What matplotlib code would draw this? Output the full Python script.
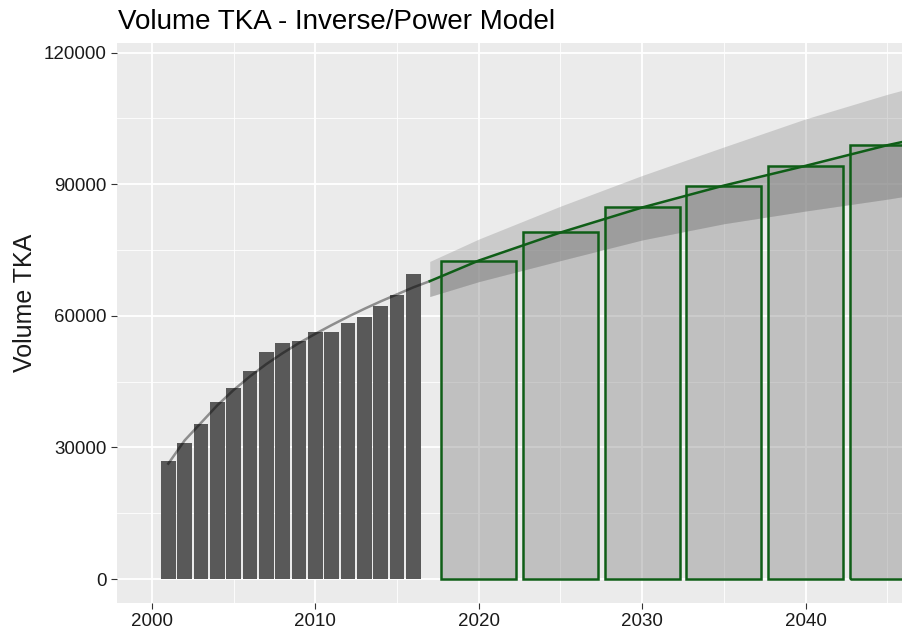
import numpy as np, matplotlib
matplotlib.use("Agg")
import matplotlib.pyplot as plt

plt.rcParams.update({"font.family": ["Liberation Sans", "DejaVu Sans"]})

# historical volumes (bars) and the fitted power curve, 2001-2016
hist_years = np.arange(2001, 2017)
hist_vol = [26800, 30900, 35450, 40400, 43600, 47400, 51700, 53700,
            54200, 56300, 56200, 58350, 59700, 62200, 64800, 69600]
fit_vol = [26300, 31600, 35600, 39600, 43100, 46200, 49000, 51500,
           53800, 55900, 57900, 59800, 61600, 63300, 64900, 66500]

# forecast: mean line and prediction band (read at these years)
fc_years = [2017, 2020, 2025, 2030, 2035, 2040, 2045, 2046]
fc_mean = [67900, 72600, 79000, 84700, 89700, 94200, 98900, 99700]
fc_upper = [72400, 77500, 85000, 92000, 98500, 104900, 110500, 111500]
fc_lower = [64400, 67800, 72600, 77300, 81000, 83900, 86600, 87200]

# 5-year forecast bars
bar_years = [2020, 2025, 2030, 2035, 2040, 2045]
bar_vol = [72550, 79000, 84700, 89700, 94200, 98900]

GREEN = "#0f5e17"
BG = "#ebebeb"

fig = plt.figure(figsize=(9.03, 6.36), dpi=100)
ax = fig.add_axes([117/903, 33/636, 1 - 117/903, 560/636])
ax.set_facecolor(BG)
for s in ax.spines.values():
    s.set_visible(False)

ax.set_xlim(1997.86, 2045.96)
ax.set_ylim(-5470, 122200)
ax.set_xticks([2000, 2010, 2020, 2030, 2040])
ax.set_xticks(np.arange(2005, 2050, 10), minor=True)
ax.set_yticks(np.arange(0, 120001, 30000))
ax.set_yticks(np.arange(15000, 120000, 30000), minor=True)
ax.grid(which="major", color="white", lw=1.3, zorder=0)
ax.grid(which="minor", color="white", lw=0.6, zorder=0)
ax.tick_params(which="major", length=4.3, width=0.8, color="#333333",
               labelsize=13.5, labelcolor="#1a1a1a", pad=3)
ax.tick_params(which="minor", length=0)

ax.bar(hist_years, hist_vol, width=0.9, color="#595959", zorder=2)
ax.plot(list(hist_years) + [fc_years[0]], fit_vol + [fc_mean[0]],
        color="black", alpha=0.4, lw=1.8, zorder=3)

# forecast bars: translucent fill under the band, green outline above it
ax.bar(bar_years, bar_vol, width=4.6, facecolor=(0.5, 0.5, 0.5, 0.4),
       lw=0, zorder=3)
ax.bar(bar_years, bar_vol, width=4.6, facecolor="none",
       edgecolor=GREEN, lw=1.8, zorder=5)
# the band: light above the mean, darker below it (two stacked layers)
ax.fill_between(fc_years, fc_lower, fc_upper, color="#7f7f7f", alpha=0.3,
                lw=0, zorder=4)
ax.fill_between(fc_years, fc_lower, fc_mean, color="#7f7f7f", alpha=0.32,
                lw=0, zorder=4)
ax.plot(fc_years, fc_mean, color=GREEN, lw=1.8, zorder=6)

fig.text(118/903, 1 - 29/636, "Volume TKA - Inverse/Power Model",
         fontsize=20, va="baseline", ha="left", color="black")
fig.text(25/903, 1 - 303/636, "Volume TKA", rotation=90, fontsize=18,
         ha="center", va="center", color="#1a1a1a")

fig.savefig("out.png", dpi=100, facecolor="white")
